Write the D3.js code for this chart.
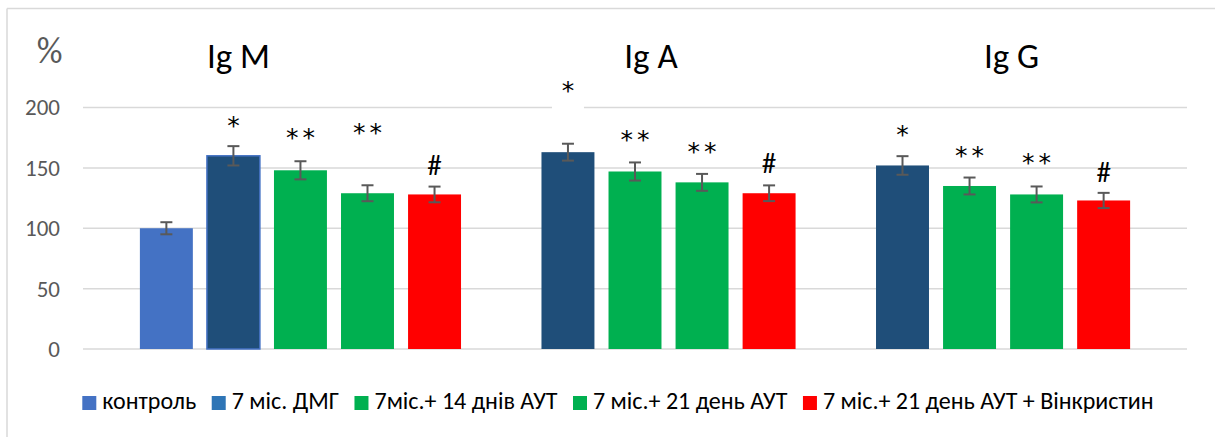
<!DOCTYPE html>
<html><head><meta charset="utf-8">
<script src="https://cdn.jsdelivr.net/npm/d3@7"></script>
<style>
  body { margin: 0; background: #fff; }
  text { font-family: Carlito, Calibri, "Liberation Sans", sans-serif; }
</style>
</head><body>
<svg id="svgID" width="1215" height="437"></svg>
<script>
// categories and series
var groups = ["Ig M", "Ig A", "Ig G"];
var series = ["контроль", "7 міс. ДМГ", "7міс.+ 14 днів АУТ", "7 міс.+ 21 день АУТ", "7 міс.+ 21 день АУТ + Вінкристин"];
var yTicks = [0, 50, 100, 150, 200];

// values per group (null = no bar), % of control
var igM = [100, 160, 148, 129, 128];
var igA = [null, 163, 147, 138, 129];
var igG = [null, 152, 135, 128, 123];

// error bar half-widths
var igMErr = [5, 8, 7.5, 6.6, 6.5];
var igAErr = [null, 7, 7.5, 7, 6.5];
var igGErr = [null, 7.7, 7, 6.6, 6.3];

// significance marks and the level (in %) where their baseline sits
var igMMark = ["", "*", "**", "**", "#"];
var igAMark = ["", "*", "**", "**", "#"];
var igGMark = ["", "*", "**", "**", "#"];
var igMMarkLevel = [0, 178.4, 168.2, 172, 144.1];
var igAMarkLevel = [0, 206.8, 166.1, 156.3, 145.5];
var igGMarkLevel = [0, 170.9, 153.5, 147.1, 138.6];

var barColors = ["#4472C4", "#1F4E79", "#00B050", "#00B050", "#FF0000"];
var legendColors = ["#4472C4", "#2E75B6", "#00B050", "#00B050", "#FF0000"];

var values = [igM, igA, igG],
    errs = [igMErr, igAErr, igGErr],
    marks = [igMMark, igAMark, igGMark],
    markLevels = [igMMarkLevel, igAMarkLevel, igGMarkLevel];

var data = [];
groups.forEach(function(g, gi) {
    series.forEach(function(s, si) {
        if (values[gi][si] == null) return;
        data.push({ group: g, gi: gi, series: s, si: si, value: values[gi][si], err: errs[gi][si],
                    mark: marks[gi][si], level: markLevels[gi][si] });
    });
});

var svg = d3.select("#svgID");

// chart frame (only top and left edges are visible in the crop)
svg.append("line").attr("x1", 7).attr("x2", 1215).attr("y1", 8.5).attr("y2", 8.5)
    .style("stroke", "#d9d9d9").style("stroke-width", 1.5);
svg.append("line").attr("x1", 7).attr("x2", 7).attr("y1", 8.5).attr("y2", 437)
    .style("stroke", "#d9d9d9").style("stroke-width", 1.5);

var plotLeft = 83, plotRight = 1187;

var x0 = d3.scaleBand()
    .domain(groups)
    .range([plotLeft, plotRight])
    .paddingInner(0)
    .paddingOuter(0.15);

var x1 = d3.scaleBand()
    .domain(series)
    .range([0, x0.bandwidth()])
    .paddingInner(0.21)
    .paddingOuter(0.1);

var y = d3.scaleLinear()
    .domain([0, 200])
    .range([349, 107.5]);

// gridlines
svg.append("g").selectAll(".hline").data(yTicks).enter()
    .append("line")
    .attr("x1", plotLeft)
    .attr("x2", plotRight)
    .attr("y1", function(d) { return y(d); })
    .attr("y2", function(d) { return y(d); })
    .style("stroke", "#d9d9d9")
    .style("stroke-width", 1.5);

// y axis labels
var yAxis = d3.axisLeft(y).tickValues(yTicks).tickSize(0).tickPadding(0);
var ga = svg.append("g").attr("transform", "translate(60,0)").call(yAxis);
ga.select(".domain").remove();
ga.selectAll("text")
    .style("font-family", "Carlito, Calibri, sans-serif")
    .style("font-size", "23px")
    .attr("fill", "#595959");

svg.append("text")
    .attr("x", 49.5)
    .attr("y", 63)
    .attr("text-anchor", "middle")
    .style("font-size", "36px")
    .attr("fill", "#595959")
    .text("%");

// group titles
var titleShift = [-62, 16, 42];
svg.append("g").selectAll("text").data(groups).enter()
    .append("text")
    .attr("x", function(d, i) { return x0(d) + x0.bandwidth() / 2 + titleShift[i]; })
    .attr("y", 68)
    .attr("text-anchor", "middle")
    .style("font-size", "35px")
    .attr("fill", "#000")
    .text(function(d) { return d; });

// bars
var bx = function(d) { return x0(d.group) + x1(d.series); };
svg.append("g").selectAll("rect").data(data).enter()
    .append("rect")
    .attr("x", bx)
    .attr("y", function(d) { return y(d.value); })
    .attr("width", x1.bandwidth())
    .attr("height", function(d) { return y(0) - y(d.value); })
    .attr("fill", function(d) { return barColors[d.si]; })
    .style("stroke", function(d) { return (d.gi === 0 && d.si === 1) ? "#4472C4" : "none"; })
    .style("stroke-width", 1.5);

// error bars
var eb = svg.append("g").style("stroke", "#595959").style("stroke-width", 2);
var cx = function(d) { return bx(d) + x1.bandwidth() / 2; };
eb.selectAll(".v").data(data).enter().append("line")
    .attr("x1", cx).attr("x2", cx)
    .attr("y1", function(d) { return y(d.value + d.err); })
    .attr("y2", function(d) { return y(d.value - d.err); });
eb.selectAll(".t").data(data).enter().append("line")
    .attr("x1", function(d) { return cx(d) - 6; }).attr("x2", function(d) { return cx(d) + 6; })
    .attr("y1", function(d) { return y(d.value + d.err); })
    .attr("y2", function(d) { return y(d.value + d.err); });
eb.selectAll(".b").data(data).enter().append("line")
    .attr("x1", function(d) { return cx(d) - 6; }).attr("x2", function(d) { return cx(d) + 6; })
    .attr("y1", function(d) { return y(d.value - d.err); })
    .attr("y2", function(d) { return y(d.value - d.err); });

// significance marks (the one sitting on the 200 gridline has a white box)
var markData = data.filter(function(d) { return d.mark; });
svg.append("g").selectAll("rect").data(markData.filter(function(d) { return d.level > 200; })).enter()
    .append("rect")
    .attr("x", function(d) { return cx(d) - 16; })
    .attr("y", function(d) { return y(d.level) - 26; })
    .attr("width", 32)
    .attr("height", 36)
    .attr("fill", "#fff");
svg.append("g").selectAll("text").data(markData).enter()
    .append("text")
    .attr("x", function(d) { return cx(d) + (d.mark === "**" ? 2 : 0); })
    .attr("y", function(d) { return y(d.level); })
    .attr("text-anchor", "middle")
    .style("font-family", function(d) { return d.mark === "#" ? "Carlito, Calibri, sans-serif" : "'DejaVu Sans', sans-serif"; })
    .style("font-size", function(d) { return d.mark === "#" ? "29px" : "25px"; })
    .style("letter-spacing", function(d) { return d.mark === "**" ? "4px" : null; })
    .attr("fill", "#000")
    .text(function(d) { return d.mark; });

// legend
var legend = svg.append("g");
var lx = 82.3;
series.forEach(function(s, i) {
    legend.append("rect")
        .attr("x", lx).attr("y", 396)
        .attr("width", 14).attr("height", 14)
        .attr("fill", legendColors[i]);
    var t = legend.append("text")
        .attr("x", lx + 20).attr("y", 409)
        .style("font-size", "24px")
        .attr("fill", "#000")
        .text(s);
    lx += 20 + t.node().getComputedTextLength() + 15.5;
});
</script></body></html>
